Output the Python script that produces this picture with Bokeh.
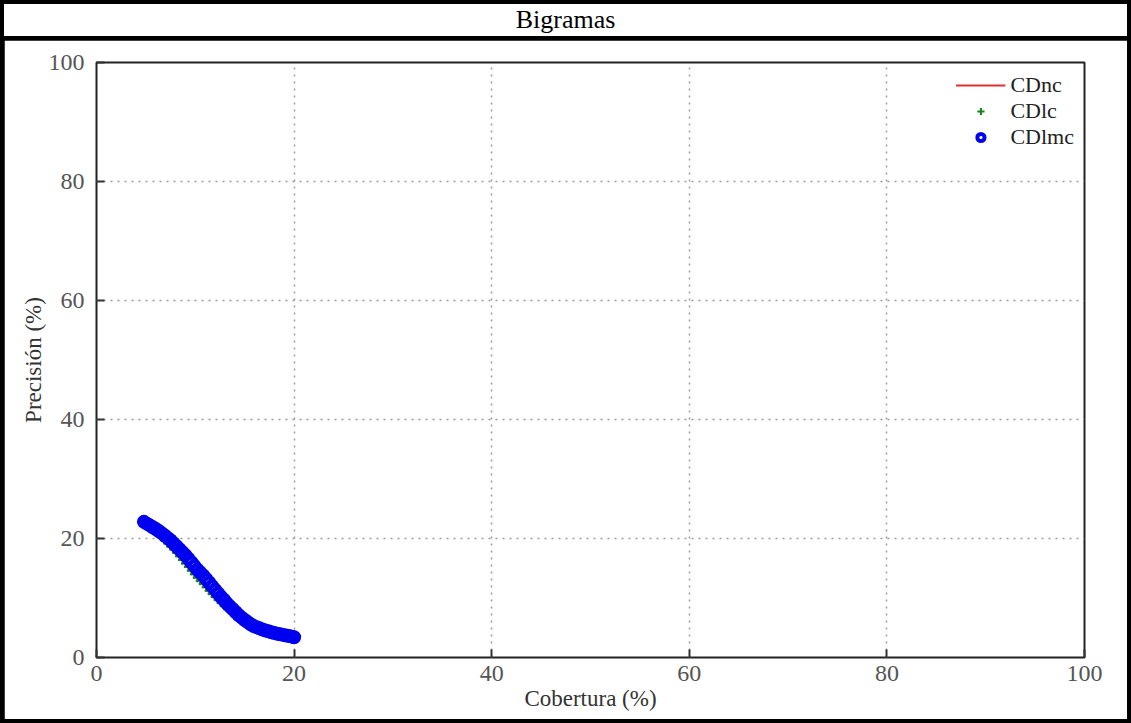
from bokeh.plotting import figure
from bokeh.models import Range1d, Legend, LegendItem, FixedTicker, Div
from bokeh.layouts import column
from bokeh.embed import file_html
from bokeh.resources import INLINE

title_text = "Bigramas"
x_label = "Cobertura (%)"
y_label = "Precisión (%)"
ticks = [0, 20, 40, 60, 80, 100]

# CDlmc (blue circles)
lmc_x = [4.8, 5.1, 5.4, 5.7, 6.0, 6.3, 6.6, 6.9, 7.2, 7.5, 7.8, 8.1, 8.4, 8.7, 9.0, 9.3, 9.6,
         9.9, 10.2, 10.5, 10.8, 11.1, 11.4, 11.7, 12.0, 12.3, 12.6, 12.9, 13.2, 13.5, 13.8, 14.1,
         14.4, 14.7, 15.0, 15.3, 15.6, 15.9, 16.2, 16.5, 16.8, 17.1, 17.4, 17.7, 18.0, 18.3,
         18.6, 18.9, 19.2, 19.5, 19.8, 20.0]
lmc_y = [22.8, 22.5, 22.2, 21.9, 21.6, 21.25, 20.9, 20.5, 20.1, 19.7, 19.2, 18.7, 18.2, 17.7,
         17.2, 16.6, 16.0, 15.4, 14.8, 14.3, 13.8, 13.2, 12.6, 12.0, 11.4, 10.8, 10.2, 9.7, 9.1,
         8.6, 8.1, 7.6, 7.1, 6.7, 6.3, 5.95, 5.6, 5.3, 5.1, 4.9, 4.7, 4.55, 4.4, 4.25, 4.1, 4.0,
         3.9, 3.8, 3.7, 3.6, 3.5, 3.4]

# CDlc (green crosses)
lc_x = [4.8, 5.1, 5.4, 5.7, 6.0, 6.3, 6.6, 6.9, 7.2, 7.5, 7.8, 8.1, 8.4, 8.7, 9.0, 9.3, 9.6,
        9.9, 10.2, 10.5, 10.8, 11.1, 11.4, 11.7, 12.0, 12.3, 12.6, 12.9, 13.2, 13.5, 13.8, 14.1,
        14.4, 14.7, 15.0, 15.3, 15.6, 15.9, 16.2, 16.5, 16.8, 17.1, 17.4, 17.7, 18.0, 18.3,
        18.6, 18.9, 19.2, 19.5, 19.8, 20.0]
lc_y = [22.7, 22.3, 21.9, 21.5, 21.1, 20.7, 20.2, 19.7, 19.2, 18.7, 18.2, 17.6, 17.0, 16.4,
        15.8, 15.2, 14.6, 14.0, 13.4, 12.9, 12.4, 11.8, 11.2, 10.7, 10.2, 9.7, 9.2, 8.7, 8.3,
        7.9, 7.5, 7.1, 6.7, 6.35, 6.0, 5.7, 5.4, 5.15, 4.95, 4.75, 4.6, 4.45, 4.3, 4.15, 4.05,
        3.95, 3.85, 3.75, 3.65, 3.55, 3.45, 3.35]

# CDnc (red line)
nc_x = [4.8, 6.0, 7.2, 8.4, 9.6, 10.8, 12.0, 13.2, 14.4, 15.6, 16.8, 18.0, 19.2, 20.0]
nc_y = [22.7, 21.2, 19.4, 17.3, 14.9, 12.7, 10.5, 8.6, 6.9, 5.5, 4.6, 4.05, 3.65, 3.35]

SERIF = "Liberation Serif"

p = figure(width=1123, height=679, output_backend="svg", toolbar_location=None,
           x_range=Range1d(0, 100), y_range=Range1d(0, 100),
           min_border_left=92, min_border_right=43, min_border_top=22, min_border_bottom=62)
p.margin = (4, 4, 4, 4)
p.background_fill_color = "white"
p.border_fill_color = "white"
p.outline_line_color = "#222222"
p.outline_line_width = 2

for ax in (p.xaxis[0], p.yaxis[0]):
    ax.ticker = FixedTicker(ticks=ticks)
    ax.axis_line_color = None
    ax.major_tick_in = 8
    ax.major_tick_out = 0
    ax.major_tick_line_color = "#333333"
    ax.major_tick_line_width = 2
    ax.minor_tick_line_color = None
    ax.major_label_text_font = SERIF
    ax.major_label_text_font_size = "24px"
    ax.major_label_text_color = "#555555"
    ax.axis_label_text_font = SERIF
    ax.axis_label_text_font_size = "23px"
    ax.axis_label_text_font_style = "normal"
    ax.axis_label_text_color = "#333333"

p.xaxis[0].axis_label = x_label
p.yaxis[0].axis_label = y_label
p.xaxis[0].major_label_standoff = 8
p.xaxis[0].axis_label_standoff = 2
p.yaxis[0].major_label_standoff = 12
p.yaxis[0].axis_label_standoff = 0

p.grid.ticker = FixedTicker(ticks=ticks)
p.grid.grid_line_color = "#9a9a9a"
p.grid.grid_line_dash = "2 5"
p.grid.grid_line_width = 1.5

r_nc = p.line(nc_x, nc_y, line_color="#e03030", line_width=2)
r_lc = p.scatter(lc_x, lc_y, marker="cross", size=9, line_color="#1a801a", line_width=2)
r_lmc = p.scatter(lmc_x, lmc_y, marker="circle", size=10, line_color="#0000f0",
                  fill_color=None, line_width=4)

legend = Legend(items=[LegendItem(label="CDnc", renderers=[r_nc]),
                       LegendItem(label="CDlc", renderers=[r_lc]),
                       LegendItem(label="CDlmc", renderers=[r_lmc])],
                location="top_right", border_line_color=None, background_fill_alpha=0,
                label_text_font=SERIF, label_text_font_size="22px", label_text_color="#222222",
                glyph_width=50, glyph_height=18, label_height=18, spacing=0, padding=4,
                margin=10)
p.add_layout(legend)

header = Div(text=('<div style="width:1123px;text-align:center;'
                   'font-family:\'Liberation Serif\',\'Times New Roman\',serif;'
                   'font-size:26px;line-height:32px;color:black;">' + title_text + '</div>'),
             width=1123, height=32,
             styles={"background-color": "white"})
header.margin = (4, 4, 0, 4)

page = column(header, p, spacing=0, styles={"background-color": "black"})

open("out.html", "w").write(file_html(page, INLINE))
